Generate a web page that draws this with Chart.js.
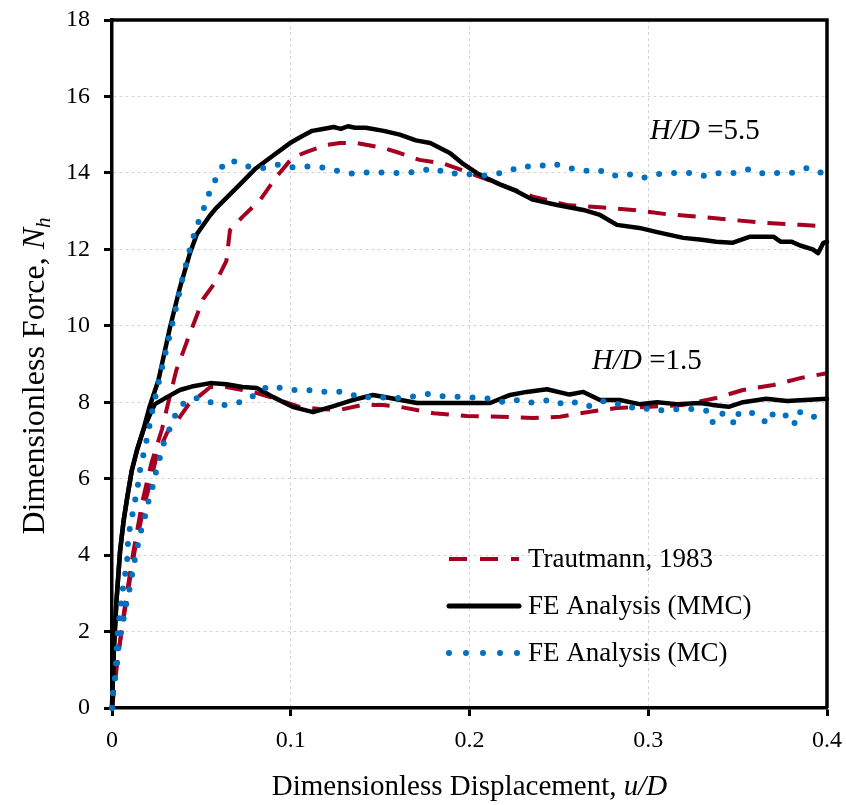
<!DOCTYPE html>
<html>
<head>
<meta charset="utf-8">
<script src="https://cdn.jsdelivr.net/npm/chart.js@4.4.1/dist/chart.umd.min.js"></script>
<style>
  html, body { margin: 0; padding: 0; background: #ffffff; }
  #wrap { width: 846px; height: 805px; }
</style>
</head>
<body>
<div id="wrap"><canvas id="c" width="846" height="805"></canvas></div>
<script>
// ---------- data ----------
const xTicks = [0, 0.1, 0.2, 0.3, 0.4];
const yTicks = [0, 2, 4, 6, 8, 10, 12, 14, 16, 18];

const seriesNames = ["Trautmann, 1983", "FE Analysis (MMC)", "FE Analysis (MC)"];

// Trautmann, H/D = 5.5
const traut55X = [0, 0.003, 0.007, 0.012, 0.017, 0.022, 0.028, 0.031, 0.036, 0.0436, 0.051, 0.0587, 0.064, 0.066, 0.073, 0.083, 0.092, 0.101, 0.109, 0.12, 0.1275, 0.137, 0.152, 0.161, 0.172, 0.185, 0.2, 0.217, 0.2355, 0.2545, 0.273, 0.2915, 0.31, 0.329, 0.347, 0.366, 0.385, 0.4];
const traut55Y = [0, 1.2, 2.6, 4.1, 5.4, 6.4, 7.3, 7.9, 8.84, 9.8, 10.7, 11.2, 11.7, 12.5, 12.85, 13.3, 13.9, 14.4, 14.55, 14.73, 14.78, 14.78, 14.65, 14.52, 14.34, 14.25, 14.0, 13.7, 13.38, 13.16, 13.1, 13.03, 12.92, 12.85, 12.77, 12.69, 12.64, 12.6];

// Trautmann, H/D = 1.5
const traut15X = [0, 0.002, 0.007, 0.013, 0.018, 0.022, 0.025, 0.031, 0.036, 0.0427, 0.0475, 0.055, 0.064, 0.073, 0.081, 0.09, 0.105, 0.116, 0.1275, 0.14, 0.1516, 0.161, 0.18, 0.1986, 0.217, 0.2355, 0.2506, 0.2657, 0.2825, 0.301, 0.3196, 0.338, 0.353, 0.37, 0.385, 0.4];
const traut15Y = [0, 1.0, 2.5, 4.2, 5.3, 6.0, 6.6, 7.22, 7.48, 7.93, 8.11, 8.4, 8.4, 8.32, 8.24, 8.11, 7.88, 7.82, 7.8, 7.93, 7.93, 7.88, 7.71, 7.64, 7.62, 7.59, 7.62, 7.74, 7.85, 7.88, 7.93, 8.11, 8.32, 8.45, 8.63, 8.76];

// FE Analysis (MMC), H/D = 5.5
const mmc55X = [0, 0.001, 0.0025, 0.0045, 0.0065, 0.0085, 0.011, 0.014, 0.0175, 0.021, 0.026, 0.0325, 0.038, 0.0436, 0.0475, 0.055, 0.0587, 0.0716, 0.08, 0.09, 0.0996, 0.106, 0.112, 0.118, 0.124, 0.128, 0.132, 0.136, 0.142, 0.152, 0.161, 0.17, 0.178, 0.189, 0.196, 0.204, 0.21, 0.217, 0.225, 0.2355, 0.249, 0.2637, 0.273, 0.2825, 0.295, 0.305, 0.3196, 0.33, 0.338, 0.347, 0.357, 0.37, 0.374, 0.38, 0.385, 0.392, 0.395, 0.398, 0.4];
const mmc55Y = [0, 1.5, 2.8, 4.1, 4.9, 5.5, 6.2, 6.75, 7.27, 7.88, 8.58, 9.97, 11.0, 11.9, 12.4, 12.9, 13.1, 13.7, 14.1, 14.45, 14.78, 14.95, 15.1, 15.15, 15.2, 15.15, 15.22, 15.18, 15.18, 15.1, 15.0, 14.85, 14.78, 14.52, 14.25, 14.0, 13.85, 13.7, 13.55, 13.3, 13.16, 13.03, 12.9, 12.64, 12.56, 12.45, 12.3, 12.25, 12.2, 12.17, 12.33, 12.33, 12.2, 12.2, 12.1, 12.0, 11.9, 12.17, 12.2];

// FE Analysis (MMC), H/D = 1.5
const mmc15X = [0, 0.001, 0.0025, 0.0045, 0.0065, 0.0085, 0.011, 0.014, 0.0175, 0.021, 0.024, 0.031, 0.038, 0.0455, 0.055, 0.064, 0.073, 0.081, 0.09, 0.101, 0.1125, 0.124, 0.135, 0.146, 0.1555, 0.1706, 0.189, 0.2115, 0.2227, 0.232, 0.2433, 0.256, 0.2637, 0.273, 0.284, 0.295, 0.305, 0.316, 0.329, 0.336, 0.345, 0.353, 0.366, 0.3776, 0.4];
const mmc15Y = [0, 1.5, 2.8, 4.1, 4.9, 5.5, 6.2, 6.75, 7.27, 7.65, 7.95, 8.14, 8.32, 8.42, 8.5, 8.47, 8.4, 8.37, 8.14, 7.88, 7.74, 7.9, 8.06, 8.19, 8.11, 7.98, 7.98, 7.98, 8.19, 8.27, 8.34, 8.2, 8.27, 8.06, 8.06, 7.95, 8.0, 7.95, 7.98, 7.93, 7.88, 8.0, 8.09, 8.03, 8.09];

// FE Analysis (MC), H/D = 5.5
const mc55X = [0, 0.0006, 0.0017, 0.0023, 0.0028, 0.0034, 0.0045, 0.0056, 0.0067, 0.0084, 0.0087, 0.0095, 0.0112, 0.0129, 0.0145, 0.0157, 0.0177, 0.0196, 0.023, 0.027, 0.031, 0.035, 0.039, 0.0436, 0.046, 0.049, 0.052, 0.055, 0.0587, 0.063, 0.069, 0.077, 0.085, 0.0935, 0.102, 0.111, 0.12, 0.128, 0.1365, 0.1455, 0.153, 0.162, 0.171, 0.18, 0.188, 0.196, 0.205, 0.2125, 0.221, 0.229, 0.237, 0.246, 0.2545, 0.263, 0.272, 0.28, 0.2887, 0.297, 0.3055, 0.314, 0.323, 0.332, 0.34, 0.3485, 0.357, 0.365, 0.372, 0.38, 0.389, 0.397, 0.4];
const mc55Y = [0, 0.42, 0.8, 1.25, 1.7, 2.1, 2.5, 2.93, 3.35, 3.74, 4.18, 4.58, 5.0, 5.42, 5.83, 6.23, 6.65, 7.06, 7.88, 8.7, 9.5, 10.3, 11.15, 12.0, 12.4, 12.8, 13.15, 13.55, 13.9, 14.28, 14.3, 14.15, 14.13, 14.22, 14.14, 14.17, 14.13, 14.03, 13.97, 14.03, 14.0, 14.0, 14.03, 14.13, 13.97, 14.0, 13.92, 13.95, 14.03, 14.18, 14.15, 14.25, 14.15, 14.05, 14.08, 13.92, 13.97, 13.87, 13.97, 14.0, 14.0, 13.92, 14.0, 14.0, 14.1, 13.97, 14.0, 14.0, 14.13, 14.0, 14.0];

// FE Analysis (MC), H/D = 1.5
const mc15X = [0, 0.0006, 0.0017, 0.0028, 0.0034, 0.0045, 0.0061, 0.0073, 0.009, 0.0106, 0.0118, 0.0134, 0.0151, 0.0168, 0.019, 0.0207, 0.0229, 0.0246, 0.0269, 0.0286, 0.0315, 0.0347, 0.038, 0.0447, 0.052, 0.0587, 0.067, 0.074, 0.081, 0.0873, 0.095, 0.1018, 0.1096, 0.1175, 0.1248, 0.132, 0.139, 0.1466, 0.1544, 0.162, 0.1695, 0.177, 0.184, 0.1913, 0.198, 0.204, 0.212, 0.2193, 0.226, 0.2327, 0.24, 0.2473, 0.2529, 0.26, 0.2669, 0.274, 0.2808, 0.288, 0.2954, 0.3032, 0.31, 0.317, 0.325, 0.333, 0.3357, 0.339, 0.3452, 0.3485, 0.3508, 0.358, 0.3636, 0.367, 0.37, 0.3754, 0.379, 0.3815, 0.3838, 0.3894, 0.3978];
const mc15Y = [0, 0.4, 0.8, 1.17, 1.52, 1.86, 2.22, 2.58, 2.93, 3.3, 3.66, 4.03, 4.4, 4.74, 5.1, 5.47, 5.81, 6.17, 6.57, 6.88, 7.22, 7.59, 7.9, 8.11, 8.09, 7.9, 7.95, 8.03, 8.22, 8.42, 8.37, 8.32, 8.32, 8.27, 8.29, 8.24, 8.11, 8.14, 8.11, 8.11, 8.16, 8.22, 8.16, 8.14, 8.14, 8.11, 8.09, 8.0, 8.06, 7.98, 8.03, 8.06, 7.93, 8.0, 7.9, 8.03, 8.0, 7.85, 7.88, 7.77, 7.8, 7.82, 7.82, 7.77, 7.46, 7.72, 7.66, 7.4, 7.74, 7.72, 7.56, 7.43, 7.72, 7.72, 7.56, 7.4, 7.77, 7.62, 7.62];

// ---------- helpers ----------
const FAMILY = "'Liberation Serif', 'Times New Roman', Times, serif";
const RED = '#A50021', BLACK = '#000000', BLUE = '#0070C0';
const pts = (xs, ys) => xs.map((x, i) => ({x: x, y: ys[i]}));

const styleTraut = {borderColor: RED, borderWidth: 4, borderDash: [18, 12], borderCapStyle: 'butt', order: 3};
const styleMMC   = {borderColor: BLACK, borderWidth: 4.5, borderDash: [], borderCapStyle: 'round', order: 2};
const styleMC    = {borderColor: BLUE, borderWidth: 6, borderDash: [0, 15], borderCapStyle: 'round', order: 1};

function ds(label, xs, ys, st) {
  return Object.assign({
    label: label, data: pts(xs, ys), showLine: true, fill: false, tension: 0,
    pointRadius: 0, pointHoverRadius: 0, borderJoinStyle: 'round', clip: 6
  }, st);
}

const datasets = [
  ds(seriesNames[0], traut55X, traut55Y, styleTraut),
  ds(seriesNames[0], traut15X, traut15Y, styleTraut),
  ds(seriesNames[1], mmc55X, mmc55Y, styleMMC),
  ds(seriesNames[1], mmc15X, mmc15Y, styleMMC),
  ds(seriesNames[2], mc55X, mc55Y, styleMC),
  ds(seriesNames[2], mc15X, mc15Y, styleMC)
];

function drawRuns(ctx, runs, x, y, align) {
  let total = 0;
  runs.forEach(r => { ctx.font = r.font; r.w = ctx.measureText(r.text).width; total += r.w; });
  let cx = align === 'center' ? x - total / 2 : x;
  runs.forEach(r => {
    ctx.font = r.font;
    ctx.fillText(r.text, cx, y + (r.dy || 0));
    cx += r.w;
  });
}

const decorPlugin = {
  id: 'decor',
  afterDatasetsDraw(chart) {
    const {ctx, chartArea: a} = chart;
    ctx.save();
    ctx.strokeStyle = '#000';
    ctx.lineWidth = 3.5;
    ctx.setLineDash([]);
    ctx.beginPath();
    ctx.moveTo(a.left, a.top);
    ctx.lineTo(a.right, a.top);
    ctx.lineTo(a.right, a.bottom);
    ctx.stroke();
    ctx.restore();
  },
  afterDraw(chart) {
    const {ctx, chartArea: a, scales} = chart;
    const xs = scales.x, ys = scales.y;
    ctx.save();
    ctx.fillStyle = '#000';
    ctx.textBaseline = 'alphabetic';
    ctx.textAlign = 'left';

    // case annotations
    const it = 'italic 29px ' + FAMILY, rg = '29px ' + FAMILY;
    drawRuns(ctx, [{text: 'H/D', font: it}, {text: ' =5.5', font: rg}],
      xs.getPixelForValue(0.301), ys.getPixelForValue(14.89), 'left');
    drawRuns(ctx, [{text: 'H/D', font: it}, {text: ' =1.5', font: rg}],
      xs.getPixelForValue(0.2685), ys.getPixelForValue(8.87), 'left');

    // x axis title
    const tx29 = '29px ' + FAMILY, tx29i = 'italic 29px ' + FAMILY;
    drawRuns(ctx, [{text: 'Dimensionless Displacement, ', font: tx29}, {text: 'u/D', font: tx29i}],
      (a.left + a.right) / 2, 795, 'center');

    // y axis title
    ctx.save();
    ctx.translate(44, 376);
    ctx.rotate(-Math.PI / 2);
    drawRuns(ctx, [{text: 'Dimensionless Force, ', font: '32px ' + FAMILY}, {text: 'N', font: 'italic 32px ' + FAMILY},
                   {text: 'h', font: 'italic 21px ' + FAMILY, dy: 6}], 0, 0, 'center');
    ctx.restore();

    // legend
    const lx0 = 449, lx1 = 519, tx = 528;
    const rows = [559, 606, 653];
    const legendStyles = [styleTraut, styleMMC, styleMC];
    legendStyles.forEach((st, i) => {
      ctx.save();
      ctx.strokeStyle = st.borderColor;
      ctx.lineWidth = st === styleMMC ? 5 : st.borderWidth;
      ctx.lineCap = st.borderCapStyle;
      ctx.setLineDash(st === styleMC ? [0, 17] : (st === styleTraut ? [18, 13] : []));
      ctx.beginPath();
      ctx.moveTo(lx0, rows[i]);
      ctx.lineTo(lx1, rows[i]);
      ctx.stroke();
      ctx.restore();
      ctx.font = '27px ' + FAMILY;
      ctx.textBaseline = 'middle';
      ctx.fillStyle = '#000';
      ctx.fillText(seriesNames[i], tx, rows[i] + 1);
    });
    ctx.restore();
  }
};

new Chart(document.getElementById('c'), {
  type: 'scatter',
  data: {datasets: datasets},
  options: {
    responsive: false,
    devicePixelRatio: 1,
    animation: false,
    events: [],
    layout: {autoPadding: false, padding: {top: 20, right: 19, left: 0, bottom: 0}},
    plugins: {legend: {display: false}, tooltip: {enabled: false}, title: {display: false}},
    scales: {
      x: {
        type: 'linear', min: 0, max: 0.4,
        afterBuildTicks: s => { s.ticks = xTicks.map(v => ({value: v})); },
        afterFit: s => { s.height = 97; s.paddingLeft = 0; s.paddingRight = 0; },
        ticks: {
          color: '#000', padding: 10, maxRotation: 0, autoSkip: false,
          font: {family: FAMILY, size: 24},
          callback: v => String(v)
        },
        grid: {color: '#d4d4d4', lineWidth: 1, tickColor: '#000', tickWidth: 3, tickLength: 8, drawTicks: true},
        border: {display: true, color: '#000', width: 3.5, dash: [3, 3]}
      },
      y: {
        type: 'linear', min: 0, max: 18,
        afterBuildTicks: s => { s.ticks = yTicks.map(v => ({value: v})); },
        afterFit: s => { s.width = 112; s.paddingTop = 0; s.paddingBottom = 0; },
        ticks: {
          color: '#000', padding: 14, autoSkip: false,
          font: {family: FAMILY, size: 24},
          callback: v => String(v)
        },
        grid: {color: '#d4d4d4', lineWidth: 1, tickColor: '#000', tickWidth: 3, tickLength: 8, drawTicks: true},
        border: {display: true, color: '#000', width: 3.5, dash: [3, 3]}
      }
    }
  },
  plugins: [decorPlugin]
});
</script>
</body>
</html>
